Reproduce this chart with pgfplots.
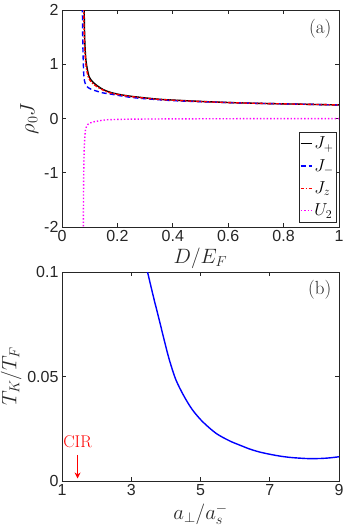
\documentclass[border=0pt]{standalone}
\usepackage{pgfplots}
\pgfplotsset{compat=1.18}
\usepackage{fontspec}
\setsansfont{Liberation Sans}
\usetikzlibrary{arrows.meta}
\definecolor{axgray}{gray}{0.15}
\definecolor{pureblue}{rgb}{0,0,1}
\definecolor{purered}{rgb}{1,0,0}
\definecolor{puremag}{rgb}{1,0,1}
\begin{document}
\begin{tikzpicture}
\pgfplotsset{
  every axis/.append style={
    scale only axis,
    width=277pt,
    axis line style={axgray, line width=0.8pt},
    tick style={axgray, line width=0.8pt},
    major tick length=4pt,
    tick align=inside,
    ticklabel style={font=\sffamily\fontsize{16}{16}\selectfont, text=axgray},
    /pgf/number format/assume math mode=true,
    label style={font=\fontsize{20}{20}\selectfont, text=axgray},
  },
}
\begin{axis}[
  at={(0,0)}, anchor=south west,
  height=217pt,
  xmin=0, xmax=1, ymin=-2, ymax=2,
  xtick={0,0.2,0.4,0.6,0.8,1},
  xticklabels={0,0.2,0.4,0.6,0.8,1},
  ytick={-2,-1,0,1,2},
  yticklabels={-2,-1,0,1,2},
  xlabel={$D/E_F$},
  ylabel={$\rho_0 J$},
  xlabel style={yshift=1pt},
  ylabel style={yshift=-1pt},
  legend style={at={(rel axis cs:0.993,0.02)}, anchor=south east,
    font=\fontsize{17}{17}\selectfont, draw=axgray, line width=0.9pt,
    inner xsep=1pt, inner ysep=3pt, row sep=5pt},
  legend cell align=left,
  legend image code/.code={\draw[#1] (0pt,0pt) -- (11pt,0pt);},
]
\addplot[black, line width=1.4pt, smooth] coordinates {
(0.0800,2.05) (0.0810,1.7) (0.0825,1.4) (0.0845,1.2) (0.087,1.05)
(0.091,0.92) (0.098,0.77) (0.110,0.68) (0.128,0.60) (0.150,0.53)
(0.176,0.48) (0.21,0.44) (0.248,0.41) (0.3,0.38) (0.35,0.355) (0.4,0.34)
(0.5,0.315) (0.6,0.295) (0.7,0.28) (0.8,0.27) (0.9,0.26) (1.0,0.25)};
\addlegendentry{$J_+$}
\addplot[pureblue, line width=1.4pt, dash pattern=on 5pt off 3pt, smooth] coordinates {
(0.0735,2.05) (0.0745,1.6) (0.0760,1.2) (0.0775,0.95) (0.0790,0.78)
(0.081,0.70) (0.085,0.63) (0.092,0.58) (0.105,0.54) (0.128,0.50)
(0.150,0.47) (0.176,0.45) (0.21,0.42) (0.248,0.39) (0.3,0.365) (0.4,0.33)
(0.5,0.31) (0.6,0.293) (0.7,0.28) (0.8,0.27) (0.9,0.26) (1.0,0.25)};
\addlegendentry{$J_-$}
\addplot[purered, line width=1.4pt, dash pattern=on 3.5pt off 1.5pt on 1.5pt off 1.5pt, smooth] coordinates {
(0.0785,2.05) (0.0795,1.7) (0.0810,1.4) (0.0830,1.2) (0.0855,1.03)
(0.089,0.90) (0.096,0.75) (0.108,0.66) (0.128,0.58) (0.150,0.52)
(0.176,0.47) (0.21,0.435) (0.248,0.405) (0.3,0.375) (0.35,0.352) (0.4,0.337)
(0.5,0.313) (0.6,0.294) (0.7,0.28) (0.8,0.27) (0.9,0.26) (1.0,0.25)};
\addlegendentry{$J_z$}
\addplot[puremag, line width=1.4pt, dotted, smooth] coordinates {
(0.0770,-2.05) (0.0780,-1.2) (0.0800,-0.6) (0.0830,-0.3) (0.086,-0.18)
(0.095,-0.10) (0.116,-0.06) (0.150,-0.03) (0.176,-0.02) (0.25,-0.012)
(0.4,-0.007) (0.6,-0.004) (0.8,-0.002) (1.0,-0.001)};
\addlegendentry{$U_2$}
\node[anchor=north east, font=\fontsize{19}{19}\selectfont, text=axgray] at (rel axis cs:0.985,0.975) {(a)};
\end{axis}

\begin{axis}[
  at={(0,-254pt)}, anchor=south west,
  height=209pt,
  xmin=1, xmax=9, ymin=0, ymax=0.1,
  xtick={1,3,5,7,9},
  xticklabels={1,3,5,7,9},
  ytick={0,0.05,0.1},
  yticklabels={0,0.05,0.1},
  xlabel={$a_\perp/a_s^-$},
  ylabel={$T_K/T_F$},
  xlabel style={yshift=-1pt},
  ylabel style={yshift=-1pt},
]
\addplot[pureblue, line width=1.4pt, smooth] coordinates {
(3.45,0.1013) (3.47,0.100) (3.65,0.0875) (3.81,0.0770) (3.95,0.0675)
(4.10,0.0580) (4.29,0.0484) (4.53,0.0404) (4.77,0.0340) (5.06,0.0284)
(5.45,0.0228) (5.84,0.0192) (6.13,0.0172) (6.42,0.0153) (6.70,0.0139)
(7.00,0.0128) (7.30,0.0119) (7.58,0.0113) (7.90,0.0109) (8.16,0.0107)
(8.50,0.0108) (8.75,0.0111) (9.00,0.0116)};
\node[anchor=north east, font=\fontsize{19}{19}\selectfont, text=axgray] at (rel axis cs:0.985,0.975) {(b)};
\node[purered, font=\fontsize{17}{17}\selectfont] at (axis cs:1.45,0.0190) {CIR};
\draw[purered, line width=1.3pt, -{Stealth[length=6pt,width=6pt]}] (axis cs:1.45,0.0125) -- (axis cs:1.45,0.0012);
\end{axis}
\pgfresetboundingbox
\useasboundingbox (-62pt,-301pt) rectangle (284pt,227pt);
\end{tikzpicture}
\end{document}
